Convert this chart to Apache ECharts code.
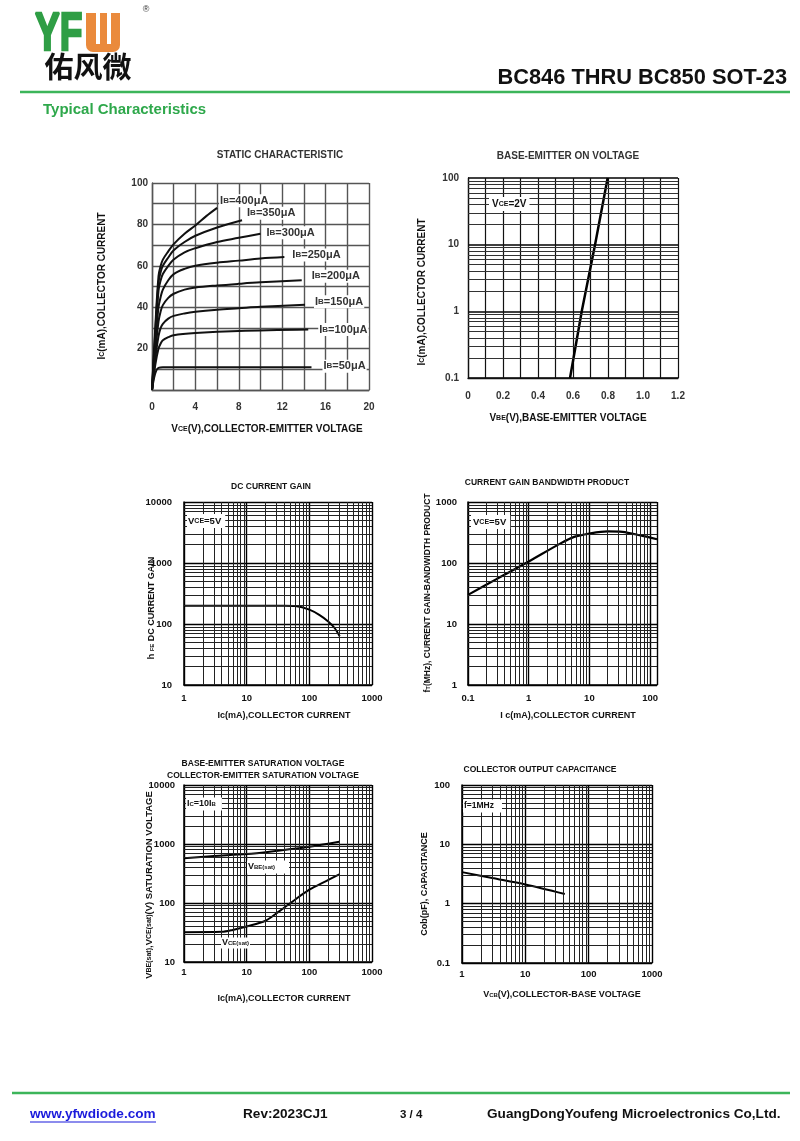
<!DOCTYPE html>
<html><head><meta charset="utf-8">
<script src="https://cdn.jsdelivr.net/npm/echarts@6/dist/echarts.min.js"></script>
<style>html,body{margin:0;padding:0;background:#fff}#c{width:800px;height:1141px}</style>
</head><body><div id="c"></div>
<script>
// ---------- DATA ----------
// Chart 1: static characteristic, [VCE (V), IC (mA)]
const ib400 = [[0,0],[0.3,30],[0.6,55],[0.8,60],[1,63],[1.5,67],[2,70.5],[3,75.5],[4,79.5],[5,84],[6,88]];
const ib350 = [[0,0],[0.3,28],[0.6,52],[0.8,57],[1,60],[1.5,64],[2,67.5],[3,71.5],[4,74.5],[6,78.5],[8.3,82]];
const ib300 = [[0,0],[0.3,25],[0.6,48],[0.8,53],[1,56],[1.5,60],[2,63],[3,66.5],[4,68.5],[6,71.5],[8,73.5],[10,75.5]];
const ib250 = [[0,0],[0.3,22],[0.6,40],[0.8,45],[1,48.5],[1.5,53],[2,56],[3,58.5],[4,60],[6,61.5],[8,62.5],[10,63.5],[12.2,64.2]];
const ib200 = [[0,0],[0.3,18],[0.6,33],[0.8,38],[1,41],[1.5,44.5],[2,46.5],[3,48.5],[4,49.5],[6,50.5],[8,51.3],[10,52],[13.8,53]];
const ib150 = [[0,0],[0.3,15],[0.6,26],[0.8,30],[1,32],[1.5,34.5],[2,35.8],[3,37],[4,37.8],[6,38.8],[8,39.5],[10,40.2],[14.1,41.2]];
const ib100 = [[0,0],[0.3,12],[0.6,20],[0.8,22.5],[1,24],[1.5,25.5],[2,26.5],[4,27.5],[8,28.5],[14.4,29.2]];
const ib50  = [[0,0],[0.2,6],[0.4,9.5],[0.6,10.7],[1,11],[14.7,11]];
const ibNames = ['400','350','300','250','200','150','100','50'];
const vceTicks = [0,4,8,12,16,20];
const icTicks1 = [20,40,60,80,100];

// Chart 2: base-emitter on voltage
const vbeOn = [0.583,0.65,0.726,0.798];
const icOn  = [0.1,1,10,100];

// Chart 3: DC current gain
const hfeIc  = [1,10,40,60,100,146,200,253,305];
const hfeVal = [200,200,200,197,172,140,110,86,63];

// Chart 4: current gain bandwidth product
const ftIc  = [0.1,0.3,1,3.3,5.6,10,20,35,67,130];
const ftVal = [30,55,106,208,268,304,330,324,286,245];

// Chart 5: saturation voltages
const vbeSatIc  = [1,3,10,25,100,300];
const vbeSatVal = [575,625,675,748,900,1095];
const vceSatIc  = [1,4,6,10,20,33,50,100,185,300];
const vceSatVal = [32,32.5,35,40,50,72,100,168,235,305];

// Chart 6: collector output capacitance
const vcb = [1,3,10,42];
const cob = [3.4,2.7,2.1,1.45];

// ---------- HELPERS ----------
const FF = '"Liberation Sans", Arial, sans-serif';
const zip = (a,b) => a.map((v,i)=>[v,b[i]]);
function logMinors(min,max){
  const out=[];
  for(let e=Math.floor(Math.log10(min)); e<=Math.ceil(Math.log10(max)); e++){
    for(let k=2;k<=9;k++){const v=+(k*Math.pow(10,e)).toPrecision(3); if(v>min*1.0001 && v<max*0.9999) out.push(v);}
  }
  return out;
}
function minorLines(xs, ys, color, width){
  return {silent:true, symbol:['none','none'], label:{show:false}, emphasis:{disabled:true},
    lineStyle:{color:color||'#222', width:width||1, type:'solid'}, animation:false,
    data: xs.map(v=>({xAxis:v})).concat(ys.map(v=>({yAxis:v})))};
}
const numFmt = v => String(+(+v).toPrecision(6));
function logAxis(idx, min, max, labelMargin, extra){
  return Object.assign({type:'log', logBase:10, gridIndex:idx, min, max,
    axisLine:{show:true, onZero:false, lineStyle:{color:'#000', width:1.5}},
    axisTick:{show:false},
    splitLine:{show:true, lineStyle:{color:'#000', width:1.4}},
    axisLabel:{formatter:numFmt, color:'#111', fontWeight:'bold', fontSize:9.5, fontFamily:FF, margin:labelMargin}
  }, extra||{});
}
function txt(x,y,text,o){
  o=o||{};
  return {type:'text', x, y, z:100, rotation:o.rot||0,
    style:{text, fill:o.fill||'#111', font:o.font||('bold 9.5px '+FF), align:o.align||'center', verticalAlign:'middle',
      rich:o.rich, backgroundColor:o.bg, padding:o.pad}};
}
function richName(fs){
  return {m:{fontSize:fs, fontWeight:'bold', fontFamily:FF, fill:'#111'},
          s:{fontSize:Math.round(fs*0.7), fontWeight:'bold', fontFamily:FF, fill:'#111'}};
}

// ---------- OPTION ----------
const ibData = [ib400,ib350,ib300,ib250,ib200,ib150,ib100,ib50];
const ibOffsets = [[-6,-7],[-4,-7],[-3,-1],[-1,-2],[1,-4],[1,-3],[2,0],[3,-1]];
const labelRich = {
  n:{fontSize:11, fontWeight:'bold', fontFamily:FF, color:'#333'},
  s:{fontSize:8, fontWeight:'bold', fontFamily:FF, color:'#333'}
};

const series = [];
ibData.forEach((d,i)=>{
  series.push({type:'line', xAxisIndex:0, yAxisIndex:0, data:d, smooth:0.35, showSymbol:false, silent:true,
    lineStyle:{color:'#111', width:2}, 
    endLabel:{show:true, formatter:'{n|I}{s|B}{n|='+ibNames[i]+'μA}', rich:labelRich, offset:ibOffsets[i],
      backgroundColor:'#fff', padding:[1,1]}});
});
series.push({type:'line', xAxisIndex:1, yAxisIndex:1, data:zip(vbeOn,icOn), showSymbol:false, silent:true,
  lineStyle:{color:'#000', width:2.5}, markLine:minorLines([], logMinors(0.1,100), '#333', 1)});
series.push({type:'line', xAxisIndex:2, yAxisIndex:2, data:zip(hfeIc,hfeVal), smooth:0.3, showSymbol:false, silent:true,
  lineStyle:{color:'#000', width:2}, markLine:minorLines(logMinors(1,1000), logMinors(10,10000), '#222', 1)});
series.push({type:'line', xAxisIndex:3, yAxisIndex:3, data:zip(ftIc,ftVal), smooth:0.3, showSymbol:false, silent:true,
  lineStyle:{color:'#000', width:2.2}, markLine:minorLines(logMinors(0.1,100), logMinors(1,1000), '#222', 1)});
series.push({type:'line', xAxisIndex:4, yAxisIndex:4, data:zip(vbeSatIc,vbeSatVal), smooth:0.3, showSymbol:false, silent:true,
  lineStyle:{color:'#000', width:2}, markLine:minorLines(logMinors(1,1000), logMinors(10,10000), '#222', 1)});
series.push({type:'line', xAxisIndex:4, yAxisIndex:4, data:zip(vceSatIc,vceSatVal), smooth:0.3, showSymbol:false, silent:true,
  lineStyle:{color:'#000', width:2}});
series.push({type:'line', xAxisIndex:5, yAxisIndex:5, data:zip(vcb,cob), smooth:0.3, showSymbol:false, silent:true,
  lineStyle:{color:'#000', width:2}, markLine:minorLines(logMinors(1,1000), logMinors(0.1,100), '#222', 1)});

const grayGrid = {color:'#555', width:1.4};
const option = {
  animation:false,
  backgroundColor:'#fff',
  grid:[
    {left:152, top:183, width:217, height:207},
    {left:468, top:178, width:210, height:200},
    {left:184, top:502, width:188, height:183},
    {left:468, top:502, width:189, height:183},
    {left:184, top:785, width:188, height:177},
    {left:462, top:785, width:190, height:178}
  ],
  xAxis:[
    {type:'value', gridIndex:0, min:0, max:20, interval:2,
      axisLine:{show:true, onZero:false, lineStyle:grayGrid}, axisTick:{show:false},
      splitLine:{show:true, lineStyle:grayGrid},
      axisLabel:{formatter:v=>vceTicks.includes(v)?String(v):'', color:'#333', fontWeight:'bold', fontSize:10, fontFamily:FF, margin:12}},
    {type:'value', gridIndex:1, min:0, max:1.2, interval:0.1,
      axisLine:{show:true, onZero:false, lineStyle:{color:'#111', width:1.3}}, axisTick:{show:false},
      splitLine:{show:true, lineStyle:{color:'#111', width:1.2}},
      axisLabel:{formatter:v=>{const k=Math.round(v*10); return k%2===0 ? (k===0?'0':(k/10).toFixed(1)) : '';},
        color:'#333', fontWeight:'bold', fontSize:10, fontFamily:FF, margin:13}},
    logAxis(2, 1, 1000, 8),
    logAxis(3, 0.1, 130, 8, {}),
    logAxis(4, 1, 1000, 5),
    logAxis(5, 1, 1000, 6)
  ],
  yAxis:[
    {type:'value', gridIndex:0, min:0, max:100, interval:10,
      axisLine:{show:true, lineStyle:grayGrid}, axisTick:{show:false},
      splitLine:{show:true, lineStyle:grayGrid},
      axisLabel:{formatter:v=>icTicks1.includes(v)?String(v):'', color:'#333', fontWeight:'bold', fontSize:10, fontFamily:FF, margin:4}},
    logAxis(1, 0.1, 100, 9, {axisLine:{show:true, lineStyle:{color:'#111', width:1.3}},
      splitLine:{show:true, lineStyle:{color:'#000', width:1.6}},
      axisLabel:{formatter:numFmt, color:'#333', fontWeight:'bold', fontSize:10, fontFamily:FF, margin:9}}),
    logAxis(2, 10, 10000, 12),
    logAxis(3, 1, 1000, 11),
    logAxis(4, 10, 10000, 9),
    logAxis(5, 0.1, 100, 12)
  ],
  series,
  graphic:{elements:[
    // header
    {type:'text', x:35, y:35, z:100, scaleX:0.7, style:{text:'YF', fill:'#2f9e45', stroke:'#2f9e45', lineWidth:2.5, font:'bold 53px '+FF, verticalAlign:'middle', align:'left'}},
    {type:'rect', z:100, shape:{x:86, y:13, width:34, height:39, r:[0,0,7,7]}, style:{fill:'#ea8a3c'}},
    {type:'rect', z:101, shape:{x:96, y:13, width:4, height:31}, style:{fill:'#fff'}},
    {type:'rect', z:101, shape:{x:107, y:13, width:4, height:31}, style:{fill:'#fff'}},
    txt(146, 10, '®', {font:'9px '+FF, fill:'#333'}),
    txt(88, 67, '佑风微', {font:'bold 29px "Noto Sans CJK SC"', fill:'#111'}),
    {type:'line', z:100, shape:{x1:20, y1:92, x2:790, y2:92}, style:{stroke:'#3cb55a', lineWidth:2.5}},
    txt(787, 78, 'BC846 THRU BC850 SOT-23', {font:'bold 21.8px '+FF, fill:'#111', align:'right'}),
    txt(43, 110, 'Typical Characteristics', {font:'bold 15px '+FF, fill:'#2ea84b', align:'left'}),
    // footer
    {type:'line', z:100, shape:{x1:12, y1:1093, x2:790, y2:1093}, style:{stroke:'#3cb55a', lineWidth:2.5}},
    txt(30, 1114, 'www.yfwdiode.com', {font:'bold 13.6px '+FF, fill:'#1a1adb', align:'left'}),
    {type:'line', z:100, shape:{x1:30, y1:1122, x2:156, y2:1122}, style:{stroke:'#1a1adb', lineWidth:1.2}},
    txt(243, 1114, 'Rev:2023CJ1', {font:'bold 13.6px '+FF, align:'left'}),
    txt(400, 1115, '3 / 4', {font:'bold 11.5px '+FF, align:'left'}),
    txt(487, 1114, 'GuangDongYoufeng Microelectronics Co,Ltd.', {font:'bold 13.6px '+FF, align:'left'}),
    // chart 1
    txt(280, 155, 'STATIC CHARACTERISTIC', {font:'bold 10px '+FF, fill:'#333'}),
    txt(267, 429, '{m|V}{s|CE}{m|(V),COLLECTOR-EMITTER VOLTAGE}', {rich:richName(10)}),
    txt(102, 286, '{m|I}{s|C}{m|(mA),COLLECTOR CURRENT}', {rich:richName(10), rot:Math.PI/2}),
    // chart 2
    txt(568, 156, 'BASE-EMITTER ON VOLTAGE', {font:'bold 10px '+FF, fill:'#333'}),
    txt(568, 418, '{m|V}{s|BE}{m|(V),BASE-EMITTER VOLTAGE}', {rich:richName(10)}),
    txt(422, 292, '{m|I}{s|C}{m|(mA),COLLECTOR CURRENT}', {rich:richName(10), rot:Math.PI/2}),
    txt(489, 204, '{m|V}{s|CE}{m|=2V}', {rich:richName(10), align:'left', bg:'#fff', pad:[2,3]}),
    // chart 3
    txt(271, 487, 'DC CURRENT GAIN', {font:'bold 8.5px '+FF}),
    txt(284, 716, 'Ic(mA),COLLECTOR CURRENT', {font:'bold 9px '+FF}),
    txt(152, 608, '{m|h }{s|FE}{m| DC CURRENT GAIN}', {rich:richName(9), rot:Math.PI/2}),
    txt(187, 521, '{m|V}{s|CE}{m|=5V}', {rich:richName(9.5), align:'left', bg:'#fff', pad:[2,4,2,1]}),
    // chart 4
    txt(547, 483, 'CURRENT GAIN BANDWIDTH PRODUCT', {font:'bold 8.5px '+FF}),
    txt(568, 716, 'I c(mA),COLLECTOR CURRENT', {font:'bold 9px '+FF}),
    txt(428, 593, '{m|f}{s|T}{m|(MHz), CURRENT GAIN-BANDWIDTH PRODUCT}', {rich:richName(8.5), rot:Math.PI/2}),
    txt(471, 522, '{m|V}{s|CE}{m|=5V}', {rich:richName(9.5), align:'left', bg:'#fff', pad:[2,4,2,2]}),
    // chart 5
    txt(263, 764, 'BASE-EMITTER SATURATION VOLTAGE', {font:'bold 8.5px '+FF}),
    txt(263, 776, 'COLLECTOR-EMITTER SATURATION VOLTAGE', {font:'bold 8.5px '+FF}),
    txt(284, 999, 'Ic(mA),COLLECTOR CURRENT', {font:'bold 9px '+FF}),
    txt(149, 885, '{m|V}{s|BE(sat)}{m|,V}{s|CE(sat)}{m|(V) SATURATION VOLTAGE}', {rich:richName(9.5), rot:Math.PI/2}),
    txt(186, 804, '{m|I}{s|C}{m|=10I}{s|B}', {rich:richName(9), align:'left', bg:'#fff', pad:[2,6,2,1]}),
    txt(247, 867, '{m|V}{s|BE(sat)}', {rich:richName(9), align:'left', bg:'#fff', pad:[2,14,2,1]}),
    txt(221, 943, '{m|V}{s|CE(sat)}', {rich:richName(9), align:'left', bg:'#fff', pad:[1,1,1,1]}),
    // chart 6
    txt(540, 770, 'COLLECTOR OUTPUT CAPACITANCE', {font:'bold 8.5px '+FF}),
    txt(562, 995, '{m|V}{s|CB}{m|(V),COLLECTOR-BASE VOLTAGE}', {rich:richName(9)}),
    txt(425, 884, 'Cob(pF), CAPACITANCE', {font:'bold 9px '+FF, rot:Math.PI/2}),
    txt(463, 806, 'f=1MHz', {font:'bold 8.5px '+FF, align:'left', bg:'#fff', pad:[2,8,2,1]})
  ]}
};
option.xAxis[3].axisLabel.showMaxLabel = false;
const chart = echarts.init(document.getElementById('c'), null, {renderer:'canvas'});
chart.setOption(option);
</script></body></html>
